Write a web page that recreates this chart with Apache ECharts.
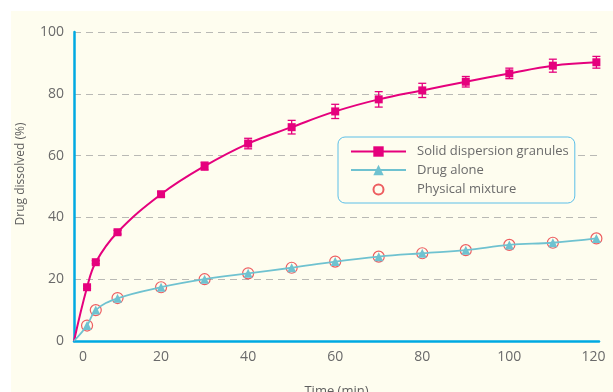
<!DOCTYPE html>
<html>
<head>
<meta charset="utf-8">
<script src="https://cdn.jsdelivr.net/npm/echarts@6/dist/echarts.min.js"></script>
<style>
html,body{margin:0;padding:0;background:#fff;}
#c{width:613px;height:392px;}
</style>
</head>
<body>
<div id="c"></div>
<script>
// Data
var times = [3, 5, 10, 20, 30, 40, 50, 60, 70, 80, 90, 100, 110, 120];
var solidDispersion = [17.4, 25.5, 35.2, 47.5, 56.6, 63.9, 69.2, 74.3, 78.2, 81.1, 83.9, 86.6, 89.1, 90.2];
var solidDispersionErr = [0.4, 0.5, 0.6, 0.8, 1.3, 1.7, 2.2, 2.3, 2.5, 2.3, 1.7, 1.7, 2.1, 1.9];
var drugAlone = [5.0, 10.0, 13.8, 17.4, 20.0, 21.9, 23.7, 25.7, 27.3, 28.4, 29.4, 31.1, 31.8, 33.2];
var physicalMixture = [5.0, 10.0, 13.9, 17.4, 20.0, 21.9, 23.7, 25.7, 27.3, 28.4, 29.4, 31.1, 31.8, 33.2];
var xTicks = [0, 20, 40, 60, 80, 100, 120];
var yTicks = [0, 20, 40, 60, 80, 100];

var PINK = '#e5007d', CYAN = '#6fc2d0', RED = '#e8343c', AXIS = '#00a9e2', CREAM = '#fefdef';
var FONT = '"Open Sans", "Noto Sans", sans-serif';

function lineData(vals) {
  var d = [{value: [0, 0], symbol: 'none'}];
  for (var i = 0; i < times.length; i++) d.push([times[i], vals[i]]);
  return d;
}
var errData = times.map(function (t, i) { return [t, solidDispersion[i], solidDispersionErr[i]]; });
var pmData = times.map(function (t, i) { return [t, physicalMixture[i]]; });

var chart = echarts.init(document.getElementById('c'), null, {renderer: 'canvas'});
chart.setOption({
  backgroundColor: '#ffffff',
  animation: false,
  graphic: [
    {type: 'rect', z: -10, silent: true, shape: {x: 11, y: 11, width: 602, height: 381}, style: {fill: CREAM}},
    {type: 'text', x: 21, y: 174, rotation: Math.PI / 2, style: {text: 'Drug dissolved (%)', font: '12px ' + FONT, fill: '#5f5f5f', textAlign: 'center', textVerticalAlign: 'middle'}}
  ],
  grid: {left: 74, right: 14, top: 32, bottom: 51, containLabel: false, outerBoundsMode: 'none'},
  legend: {
    orient: 'vertical',
    left: 338, top: 137,
    data: [
      'Solid dispersion granules',
      'Drug alone',
      {name: 'Physical mixture', icon: 'path://M0,0L0,0M13,13L13,13M11.5,6.5A5,5,0,1,1,1.5,6.5A5,5,0,1,1,11.5,6.5Z'}
    ],
    itemWidth: 55, itemHeight: 13, itemGap: 5.5,
    padding: [8, 6, 6, 12],
    borderColor: '#5cbfe8', borderWidth: 1, borderRadius: 7,
    backgroundColor: CREAM,
    textStyle: {fontFamily: FONT, fontSize: 13, color: '#6b6b6b', padding: [0, 0, 0, 6]}
  },
  xAxis: {
    type: 'value', min: 0, max: 120.6, interval: 20,
    name: 'Time (min)', nameLocation: 'middle', nameGap: 44,
    nameTextStyle: {fontFamily: FONT, fontSize: 13, color: '#5f5f5f'},
    axisLine: {show: true, onZero: false, lineStyle: {color: AXIS, width: 2.5}},
    axisTick: {show: false},
    splitLine: {show: false},
    axisLabel: {
      margin: 9, fontFamily: FONT, fontSize: 14, color: '#6a6a6a', showMaxLabel: false,
      formatter: function (v) { return v === 0 ? '{z|0}' : (v === 120 ? '{e|120}' : String(v)); },
      rich: {z: {padding: [0, 0, 0, 18], fontFamily: FONT, fontSize: 14, color: '#6a6a6a'},
             e: {padding: [0, 6, 0, 0], fontFamily: FONT, fontSize: 14, color: '#6a6a6a'}}
    }
  },
  yAxis: {
    type: 'value', min: 0, max: 100, interval: 20,
    axisLine: {show: true, lineStyle: {color: AXIS, width: 2.5}},
    axisTick: {show: false},
    axisLabel: {margin: 10, fontFamily: FONT, fontSize: 14, color: '#6a6a6a'},
    splitLine: {show: true, lineStyle: {color: '#b9b9b5', width: 1, type: [7, 5]}}
  },
  series: [
    {
      name: 'Solid dispersion granules', type: 'line', data: lineData(solidDispersion),
      smooth: 0.4, symbol: 'rect', symbolSize: 8, z: 5,
      lineStyle: {color: PINK, width: 2}, itemStyle: {color: PINK}
    },
    {
      name: 'SD error', type: 'custom', data: errData, z: 4,
      renderItem: function (params, api) {
        var x = api.value(0), y = api.value(1), e = api.value(2);
        var top = api.coord([x, y + e]), bot = api.coord([x, y - e]);
        var w = 4;
        var st = {stroke: PINK, lineWidth: 1.3};
        return {type: 'group', children: [
          {type: 'line', shape: {x1: top[0], y1: top[1], x2: bot[0], y2: bot[1]}, style: st},
          {type: 'line', shape: {x1: top[0] - w, y1: top[1], x2: top[0] + w, y2: top[1]}, style: st},
          {type: 'line', shape: {x1: bot[0] - w, y1: bot[1], x2: bot[0] + w, y2: bot[1]}, style: st}
        ]};
      }
    },
    {
      name: 'Drug alone', type: 'line', data: lineData(drugAlone),
      smooth: 0.4, symbol: 'triangle', symbolSize: 9, z: 6,
      lineStyle: {color: CYAN, width: 1.8}, itemStyle: {color: CYAN}
    },
    {
      name: 'Physical mixture', type: 'scatter', data: pmData,
      symbol: 'circle', symbolSize: 11, z: 5,
      itemStyle: {color: 'rgba(0,0,0,0)', borderColor: RED, borderWidth: 1.2}
    }
  ]
});
</script>
</body>
</html>
